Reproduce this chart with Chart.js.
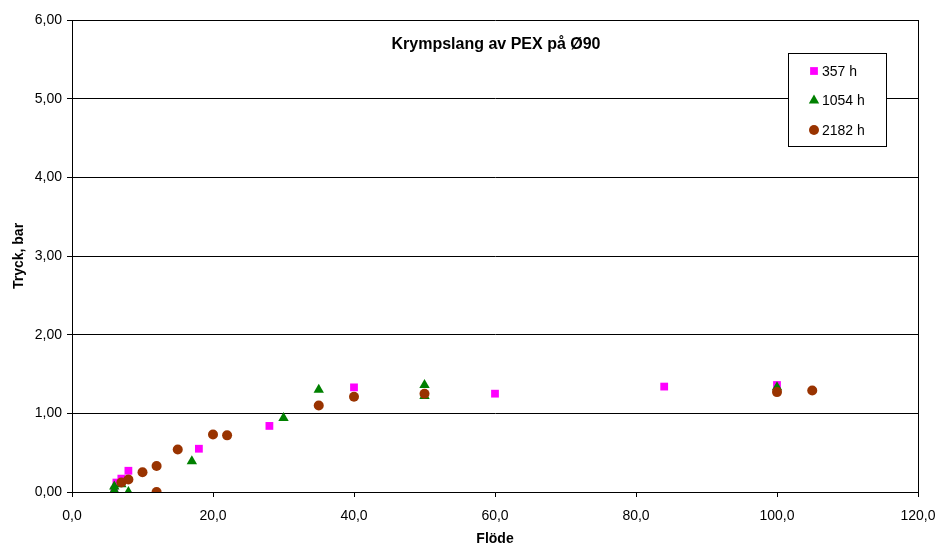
<!DOCTYPE html>
<html lang="sv">
<head>
<meta charset="UTF-8">
<title>Krympslang av PEX på Ø90</title>
<script src="https://cdn.jsdelivr.net/npm/chart.js@4.4.0/dist/chart.umd.min.js"></script>
<style>
  html, body { margin: 0; padding: 0; background: #fff; }
  #wrap { width: 939px; height: 548px; }
</style>
</head>
<body>
<div id="wrap"><canvas id="tryckChart" width="939" height="548"></canvas></div>
<script>
// Mätserier: flöde (x) och tryck i bar (y)
const flode357 = [6, 6.3, 7, 8, 18, 28, 40, 60, 84, 100];
const tryck357 = [0.02, 0.12, 0.17, 0.27, 0.55, 0.84, 1.33, 1.25, 1.34, 1.36];

const flode1054 = [6, 6, 7, 8, 17, 30, 35, 50, 50, 100];
const tryck1054 = [0.02, 0.07, 0.1, 0, 0.39, 0.94, 1.30, 1.36, 1.22, 1.33];

const flode2182 = [7, 8, 10, 12, 12, 15, 20, 22, 35, 40, 50, 100, 105];
const tryck2182 = [0.12, 0.16, 0.25, 0.33, 0, 0.54, 0.73, 0.72, 1.10, 1.21, 1.25, 1.27, 1.29];

const serieNamn = ['357 h', '1054 h', '2182 h'];
const serieFarg = ['#ff00ff', '#008000', '#993300'];
const serieForm = ['rect', 'triangle', 'circle'];
const serieRadie = [5.5, 6, 5];

function punkter(xs, ys) {
    return xs.map((x, i) => ({ x: x, y: ys[i] }));
}

const FONT = '"Liberation Sans", Arial, sans-serif';

// rubrik, ram till höger och legend i diagramytan
const ritaExtra = {
    id: 'ritaExtra',
    afterDatasetsDraw(chart) {
        const ctx = chart.ctx;
        const a = chart.chartArea;
        ctx.save();

        ctx.strokeStyle = '#000';
        ctx.lineWidth = 1;
        ctx.beginPath();
        ctx.moveTo(Math.round(a.right) + 0.5, a.top);
        ctx.lineTo(Math.round(a.right) + 0.5, a.bottom);
        ctx.stroke();

        ctx.fillStyle = '#000';
        ctx.font = 'bold 16px ' + FONT;
        ctx.textAlign = 'center';
        ctx.textBaseline = 'middle';
        ctx.fillText('Krympslang av PEX på Ø90', (a.left + a.right) / 2 + 1, a.top + 25);

        // legend
        const lx = a.right - 130, ly = a.top + 33, lw = 98, lh = 93;
        ctx.fillStyle = '#fff';
        ctx.fillRect(lx, ly, lw, lh);
        ctx.strokeStyle = '#000';
        ctx.strokeRect(lx + 0.5, ly + 0.5, lw, lh);

        ctx.font = '14px ' + FONT;
        ctx.textAlign = 'left';
        serieNamn.forEach((namn, i) => {
            const y = ly + 18 + i * 29.5;
            ctx.fillStyle = serieFarg[i];
            Chart.helpers.drawPoint(ctx, {
                pointStyle: serieForm[i],
                radius: serieRadie[i],
                borderWidth: 0
            }, lx + 26, y);
            ctx.fillStyle = '#000';
            ctx.fillText(namn, lx + 34, y + 1);
        });
        ctx.restore();
    }
};

const ctx = document.getElementById('tryckChart').getContext('2d');
new Chart(ctx, {
    type: 'scatter',
    data: {
        datasets: serieNamn.map((namn, i) => ({
            label: namn,
            data: [punkter(flode357, tryck357), punkter(flode1054, tryck1054), punkter(flode2182, tryck2182)][i],
            pointStyle: serieForm[i],
            pointRadius: serieRadie[i],
            backgroundColor: serieFarg[i],
            borderColor: serieFarg[i],
            borderWidth: 0,
            order: 2 - i
        }))
    },
    options: {
        responsive: false,
        animation: false,
        layout: { padding: { left: 0, right: 21, top: 20, bottom: 0 } },
        plugins: {
            legend: { display: false },
            title: { display: false },
            tooltip: { enabled: false }
        },
        scales: {
            x: {
                type: 'linear',
                min: 0,
                max: 120,
                afterFit(s) { s.height = 56; s.paddingLeft = 0; s.paddingRight = 0; },
                ticks: {
                    stepSize: 20,
                    color: '#000',
                    padding: 11,
                    font: { family: FONT, size: 14 },
                    callback: v => v.toFixed(1).replace('.', ',')
                },
                grid: { drawOnChartArea: false, drawTicks: true, tickLength: 5, color: '#000' },
                border: { color: '#000' },
                title: {
                    display: true,
                    text: 'Flöde',
                    color: '#000',
                    padding: { top: 0, bottom: 0 },
                    font: { family: FONT, size: 14, weight: 'bold' }
                }
            },
            y: {
                min: 0,
                max: 6,
                afterFit(s) { s.width = 72; s.paddingTop = 0; s.paddingBottom = 0; },
                ticks: {
                    stepSize: 1,
                    color: '#000',
                    padding: 5,
                    font: { family: FONT, size: 14 },
                    callback: v => v.toFixed(2).replace('.', ',')
                },
                grid: { color: '#000', tickLength: 5 },
                border: { color: '#000' },
                title: {
                    display: true,
                    text: 'Tryck, bar',
                    color: '#000',
                    padding: { top: 11, bottom: 0 },
                    font: { family: FONT, size: 14, weight: 'bold' }
                }
            }
        }
    },
    plugins: [ritaExtra]
});
</script>
</body>
</html>
